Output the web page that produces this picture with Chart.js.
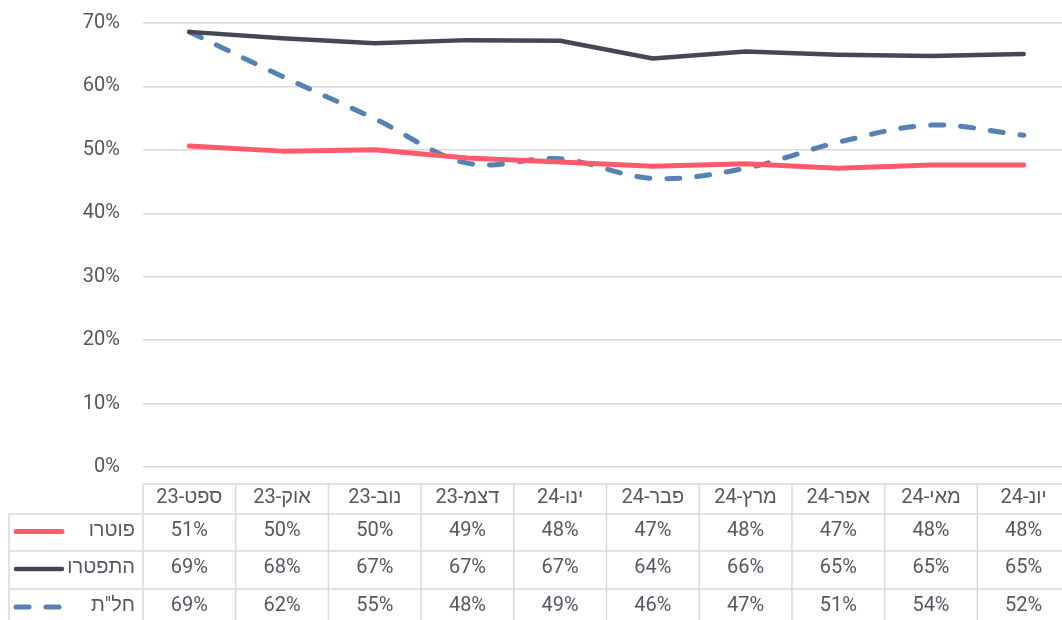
<!DOCTYPE html>
<html>
<head>
<meta charset="utf-8">
<script src="https://cdn.jsdelivr.net/npm/chart.js@4/dist/chart.umd.min.js"></script>
<style>
  html, body { margin: 0; padding: 0; background: #fff; overflow: hidden; }
  .chart_container { width: 1072px; height: 620px; }
</style>
</head>
<body>
<div class="chart_container"><canvas id="layoffChart"></canvas></div>
<script>
const months = ["ספט-23", "אוק-23", "נוב-23", "דצמ-23", "ינו-24", "פבר-24", "מרץ-24", "אפר-24", "מאי-24", "יונ-24"];

const firedLabel = "פוטרו";
const resignedLabel = "התפטרו";
const leaveLabel = "חל\"ת";

const fired = [50.6, 49.8, 50.0, 48.7, 48.1, 47.4, 47.8, 47.1, 47.6, 47.6];
const resigned = [68.6, 67.6, 66.8, 67.3, 67.2, 64.4, 65.5, 65.0, 64.8, 65.1];
const unpaidLeave = [68.6, 61.6, 54.9, 47.9, 48.6, 45.5, 47.1, 51.2, 53.9, 52.3];

const yTicks = [0, 10, 20, 30, 40, 50, 60, 70];

const textColor = "#565664";
const gridColor = "#d9d9d9";
const font = "Roboto, 'Liberation Sans', 'DejaVu Sans', sans-serif";
const fontSize = 20;

// data table under the plot, like excel's "data table with legend keys"
const dataTable = {
    id: "dataTable",
    afterDraw(chart) {
        const ctx = chart.ctx;
        const x = chart.scales.x;
        const step = x.getPixelForValue(1) - x.getPixelForValue(0);
        const firstEdge = x.getPixelForValue(0) - step / 2;
        const lastEdge = x.getPixelForValue(months.length - 1) + step / 2;
        const rows = [484, 514, 551, 589, 627];
        const tableLeft = 9;

        ctx.save();
        ctx.strokeStyle = gridColor;
        ctx.lineWidth = 1.5;
        ctx.beginPath();
        ctx.moveTo(firstEdge, rows[0]);
        ctx.lineTo(lastEdge, rows[0]);
        for (let r = 1; r < rows.length; r++) {
            ctx.moveTo(tableLeft, rows[r]);
            ctx.lineTo(lastEdge, rows[r]);
        }
        ctx.moveTo(tableLeft, rows[1]);
        ctx.lineTo(tableLeft, rows[rows.length - 1]);
        for (let i = 0; i <= months.length; i++) {
            const ex = firstEdge + i * step;
            ctx.moveTo(ex, rows[0]);
            ctx.lineTo(ex, rows[rows.length - 1]);
        }
        ctx.stroke();

        ctx.fillStyle = textColor;
        ctx.font = fontSize + "px " + font;
        ctx.textAlign = "center";
        ctx.textBaseline = "middle";
        months.forEach((m, i) => {
            ctx.fillText(m, x.getPixelForValue(i), (rows[0] + rows[1]) / 2 - 1);
        });

        chart.data.datasets.forEach((ds, r) => {
            const cy = (rows[r + 1] + rows[r + 2]) / 2 - 2;
            ds.data.forEach((v, i) => {
                ctx.textAlign = "center";
                ctx.fillText(Math.round(v) + "%", x.getPixelForValue(i), cy);
            });
            ctx.textAlign = "right";
            ctx.fillText(ds.label, 135, cy);

            ctx.beginPath();
            ctx.strokeStyle = ds.borderColor;
            ctx.lineWidth = ds.borderWidth;
            ctx.lineCap = "round";
            ctx.setLineDash(ds.borderDash || []);
            ctx.moveTo(16, cy + 1);
            ctx.lineTo(62, cy + 1);
            ctx.stroke();
            ctx.setLineDash([]);
        });
        ctx.restore();
    },
};

const layoffChart = new Chart("layoffChart", {
    type: "line",
    data: {
        labels: months,
        datasets: [
            {
                label: firedLabel,
                data: fired,
                borderColor: "#ff5a6b",
                borderWidth: 5,
                borderCapStyle: "round",
                borderJoinStyle: "round",
                pointRadius: 0,
                tension: 0,
            },
            {
                label: resignedLabel,
                data: resigned,
                borderColor: "#474656",
                borderWidth: 4.5,
                borderCapStyle: "round",
                borderJoinStyle: "round",
                pointRadius: 0,
                tension: 0,
            },
            {
                label: leaveLabel,
                data: unpaidLeave,
                borderColor: "#5781b3",
                borderWidth: 5,
                borderDash: [13, 17],
                borderCapStyle: "round",
                pointRadius: 0,
                tension: 0.35,
            },
        ],
    },
    options: {
        responsive: true,
        maintainAspectRatio: false,
        animation: false,
        layout: {
            padding: { top: 23, bottom: 153, left: 0, right: 2 },
        },
        plugins: {
            legend: { display: false },
            tooltip: { enabled: false },
        },
        scales: {
            x: {
                display: false,
                offset: true,
            },
            y: {
                min: 0,
                max: 70,
                afterFit(scale) {
                    scale.width = 143;
                },
                afterBuildTicks(scale) {
                    scale.ticks = yTicks.map((v) => ({ value: v }));
                },
                border: { display: false },
                grid: {
                    color: gridColor,
                    lineWidth: 1.5,
                    drawTicks: true,
                    tickLength: 12,
                    tickColor: "rgba(0,0,0,0)",
                },
                ticks: {
                    padding: 11,
                    color: textColor,
                    font: { family: font, size: fontSize },
                    callback: (v) => v + "%",
                },
            },
        },
    },
    plugins: [dataTable],
});
</script>
</body>
</html>
